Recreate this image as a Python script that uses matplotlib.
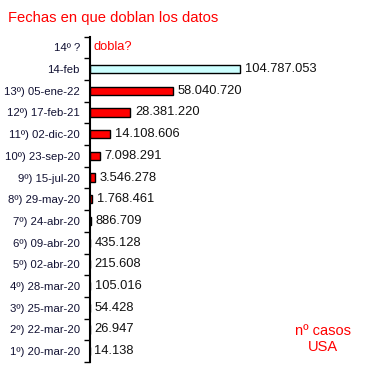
import matplotlib
matplotlib.use("Agg")
import matplotlib.pyplot as plt
import numpy as np

plt.rcParams['font.family'] = ['Liberation Sans', 'DejaVu Sans']

# data, bottom row first
labels = ['1º) 20-mar-20', '2º) 22-mar-20', '3º) 25-mar-20', '4º) 28-mar-20',
          '5º) 02-abr-20', '6º) 09-abr-20', '7º) 24-abr-20', '8º) 29-may-20',
          '9º) 15-jul-20', '10º) 23-sep-20', '11º) 02-dic-20', '12º) 17-feb-21',
          '13º) 05-ene-22', '14-feb', '14º ?']
casos = [14138, 26947, 54428, 105016, 215608, 435128, 886709, 1768461,
         3546278, 7098291, 14108606, 28381220, 58040720, 104787053]
colores = ['#ff0000'] * 13 + ['#ccffff']

fig = plt.figure(figsize=(3.81, 3.69), dpi=100)
ax = fig.add_axes([89.5 / 381, 7 / 369, 1 - 89.5 / 381, 325.5 / 369])

y = np.arange(len(casos))
ax.barh(y, casos, height=0.38, color=colores, edgecolor='black', linewidth=1)

for yi, v in zip(y, casos):
    ax.annotate(f"{v:,}".replace(",", "."), (v, yi), xytext=(3.5, 0),
                textcoords='offset points', va='center', ha='left',
                fontsize=9.3, color='#111111')

ax.annotate('dobla?', (0, len(casos)), xytext=(3, 0), textcoords='offset points',
            color='red', fontsize=9.3, va='center', ha='left')

ax.set_ylim(-0.5, len(labels) - 0.5)
ax.set_xlim(0, 104787053 * (381 - 89.5) / 150.5)
ax.set_yticks(np.arange(len(labels)))
ax.set_yticklabels(labels, fontsize=8.2, color='#111133')
ax.set_yticks(np.arange(len(labels) + 1) - 0.5, minor=True)
ax.tick_params(axis='y', which='major', length=0, pad=7)
ax.tick_params(axis='y', which='minor', length=4, width=1, direction='out')
ax.set_xticks([])
for s in ['top', 'right', 'bottom']:
    ax.spines[s].set_visible(False)
ax.spines['left'].set_linewidth(1.5)

fig.text(8 / 381, 1 - 18 / 369, 'Fechas en que doblan los datos', color='red',
         fontsize=10.6, va='center', ha='left')
fig.text(323 / 381, 1 - 339 / 369, 'nº casos\nUSA', color='red', fontsize=10.5,
         va='center', ha='center', linespacing=1.2)

fig.savefig('out.png', dpi=100)
